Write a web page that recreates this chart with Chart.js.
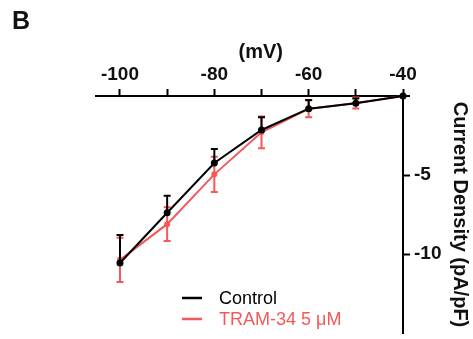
<!DOCTYPE html>
<html><head><meta charset="utf-8">
<script src="https://cdn.jsdelivr.net/npm/chart.js@4/dist/chart.umd.min.js"></script>
<style>html,body{margin:0;padding:0;background:#fff;overflow:hidden}</style>
</head><body>
<canvas id="c" width="473" height="339"></canvas>
<script>
// ---- data ----
const voltages = [-100, -90, -80, -70, -60, -50, -40];
const controlMean = [-10.57, -7.39, -4.24, -2.15, -0.80, -0.46, 0];
const controlSem  = [1.77, 1.08, 0.89, 0.80, 0.55, 0.30, 0];
const tramMean    = [-10.37, -8.11, -4.96, -2.30, -0.82, -0.44, 0];
const tramSem     = [1.40, 1.07, 1.12, 1.00, 0.53, 0.35, 0];
const seriesLabels = ['Control', 'TRAM-34 5 μM'];
const labeledXTicks = [-100, -80, -60, -40];
const labeledYTicks = [-5, -10];
const panelLabel = 'B';
const xTitle = '(mV)';
const yTitle = 'Current Density (pA/pF)';

const FONT = "'Liberation Sans', Arial, Helvetica, sans-serif";
const BLACK = '#000000';
const RED = 'rgb(245,88,88)';

const errorBars = {
  id: 'errorBars',
  afterDatasetDraw(chart, args) {
    const ds = chart.data.datasets[args.index];
    const ys = chart.scales.y;
    const ctx = chart.ctx;
    ctx.save();
    ctx.strokeStyle = ds.borderColor;
    ctx.lineWidth = 2;
    args.meta.data.forEach((pt, i) => {
      const m = ds.data[i].y, e = ds.errors[i];
      if (!e) return;
      const ends = [];
      if (ds.errorUp) ends.push(ys.getPixelForValue(m + e));
      if (ds.errorDown) ends.push(ys.getPixelForValue(m - e));
      ends.forEach(yEnd => {
        ctx.beginPath();
        ctx.moveTo(pt.x, pt.y); ctx.lineTo(pt.x, yEnd);
        ctx.moveTo(pt.x - 3.5, yEnd); ctx.lineTo(pt.x + 3.5, yEnd);
        ctx.stroke();
      });
    });
    ctx.restore();
  }
};

const decor = {
  id: 'decor',
  afterDraw(chart) {
    const ctx = chart.ctx;
    const area = chart.chartArea;
    ctx.save();
    const yAxisPix = chart.scales.y.getPixelForValue(0);
    ctx.strokeStyle = BLACK; ctx.lineWidth = 2;
    ctx.beginPath(); ctx.moveTo(area.right, yAxisPix); ctx.lineTo(area.right + 7, yAxisPix); ctx.stroke();
    ctx.fillStyle = '#111';
    ctx.font = 'bold 25px ' + FONT;
    ctx.textBaseline = 'alphabetic';
    ctx.textAlign = 'left';
    ctx.fillText(panelLabel, 12, 29);
    ctx.font = '18px ' + FONT;
    ctx.textBaseline = 'middle';
    chart.data.datasets.forEach((ds, i) => {
      const y = 298 + i * 21;
      ctx.strokeStyle = ds.borderColor;
      ctx.lineWidth = 2.5;
      ctx.beginPath(); ctx.moveTo(182, y); ctx.lineTo(202, y); ctx.stroke();
      ctx.fillStyle = ds.borderColor;
      ctx.fillText(ds.label, 219, y + 1);
    });
    ctx.restore();
  }
};

new Chart(document.getElementById('c'), {
  type: 'line',
  data: {
    datasets: [
      {
        label: seriesLabels[0],
        data: voltages.map((v, i) => ({x: v, y: controlMean[i]})),
        errors: controlSem, errorUp: true, errorDown: false,
        borderColor: BLACK, backgroundColor: BLACK,
        pointBackgroundColor: BLACK, pointBorderWidth: 0,
        pointRadius: 3.5, borderWidth: 2, tension: 0, clip: false
      },
      {
        label: seriesLabels[1],
        data: voltages.map((v, i) => ({x: v, y: tramMean[i]})),
        errors: tramSem, errorUp: true, errorDown: true,
        borderColor: RED, backgroundColor: RED,
        pointBackgroundColor: RED, pointBorderWidth: 0,
        pointRadius: 3, borderWidth: 2, tension: 0, clip: false
      }
    ]
  },
  options: {
    responsive: false,
    devicePixelRatio: 1,
    animation: false,
    layout: {padding: {left: 96.4, right: 0, top: 0, bottom: 6}},
    plugins: {legend: {display: false}, tooltip: {enabled: false}},
    scales: {
      x: {
        type: 'linear', position: 'top', min: -105, max: -40,
        afterFit: s => { s.height = 96; s.paddingLeft = 0; s.paddingRight = 0; },
        grid: {drawOnChartArea: false, drawTicks: true, tickLength: 7, tickColor: BLACK, tickWidth: 2},
        border: {display: true, color: BLACK, width: 2},
        ticks: {
          stepSize: 10, includeBounds: false, autoSkip: false, maxRotation: 0,
          padding: 3, color: '#111',
          font: {family: FONT, size: 19, weight: 'bold'},
          callback: v => labeledXTicks.includes(v) ? String(v) : ''
        },
        title: {display: true, text: '    ' + xTitle, color: '#111',
          font: {family: FONT, size: 20, weight: 'bold'}, padding: {top: 40, bottom: 0}}
      },
      y: {
        type: 'linear', position: 'right', min: -15, max: 0,
        afterFit: s => { s.width = 70; s.paddingTop = 0; s.paddingBottom = 0; },
        grid: {drawOnChartArea: false, drawTicks: true, tickLength: 7, tickColor: BLACK, tickWidth: 2},
        border: {display: true, color: BLACK, width: 2},
        ticks: {
          stepSize: 5, includeBounds: false, autoSkip: false, padding: 4, color: '#111',
          font: {family: FONT, size: 19, weight: 'bold'},
          callback: v => labeledYTicks.includes(v) ? String(v) : null
        },
        title: {display: true, text: yTitle, color: '#111',
          font: {family: FONT, size: 20, weight: 'bold'}, padding: {top: 1, bottom: 0}}
      }
    }
  },
  plugins: [errorBars, decor]
});
</script>
</body></html>
